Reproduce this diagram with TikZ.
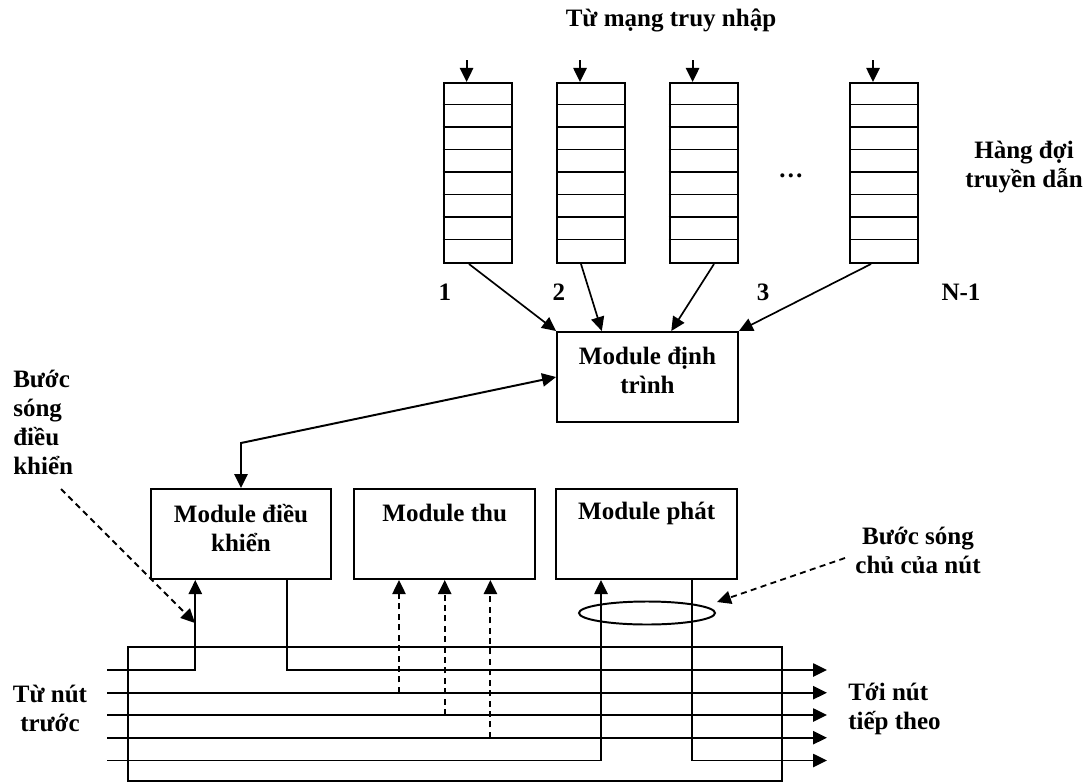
\documentclass[tikz,border=0pt]{standalone}
\usepackage{fontspec}
\setmainfont{Liberation Serif}
\usepackage{tikz}
\usetikzlibrary{arrows.meta}
\usetikzlibrary{positioning}
\usetikzlibrary{shapes.geometric}
\usetikzlibrary{calc}

\begin{document}
\begin{tikzpicture}[
  x=0.025cm, y=-0.025cm,
  % khối module và hàng đợi
  modbox/.style={rectangle, draw=black, line width=1.4pt, minimum width=4.52cm, minimum height=2.25cm, inner sep=0pt},
  queue/.style={rectangle, draw=black, line width=1.4pt, minimum width=1.7cm, minimum height=4.5cm, inner sep=0pt},
  % chữ đậm
  lbl/.style={font=\fontsize{17.8}{20.6}\selectfont\bfseries, align=center, inner sep=0pt},
  % mũi tên và đường
  arr/.style={-{Triangle[length=3.5mm, width=3.3mm]}},
  bus/.style={line width=1.4pt},
  wl/.style={line width=1.3pt, dash pattern=on 1.5mm off 1.1mm}
]
\useasboundingbox (0,0) rectangle (1084,783);

\node[lbl] (title) at (671,20) {Từ mạng truy nhập};

% các hàng đợi
\foreach \q/\cx in {1/477.6, 2/591, 3/703.6, 4/884} {
  \node[queue] (q\q) at (\cx,173) {};
  \foreach \r in {1,...,7}
    \draw[line width=1.4pt] ($(q\q.north west)+(0,22.5*\r)$) -- ($(q\q.north east)+(0,22.5*\r)$);
  \coordinate (qin\q) at (\cx-11,60);
  \draw[line width=1.4pt, arr] (qin\q) -- (qin\q |- q\q.north);
}

\node[lbl] (n1) at (445,292) {1};
\node[lbl] (n2) at (559,292) {2};
\node[lbl] (n3) at (763,292) {3};
\node[lbl] (n4) at (961,292) {N-1};
\node[lbl] (dots) at (791,176) {…};
\node[lbl] (qtxt) at (1024,167) {Hàng đợi\\truyền dẫn};

% module định trình
\node[modbox] (sched) at (647.5,377) {};
\node[lbl] (schedtxt) at (647.5,370.5) {Module định\\trình};

\draw[line width=1.2pt, arr] ([xshift=-0.215cm]q1.south) -- (sched.north west);
\draw[line width=1.2pt, arr] ([xshift=-0.25cm]q2.south) -- ($(sched.north west)!0.25!(sched.north east)$);
\draw[line width=1.2pt, arr] ([xshift=0.26cm]q3.south) -- ($(sched.north west)!0.63!(sched.north east)$);
\draw[line width=1.2pt, arr] ([xshift=-0.325cm]q4.south) -- (sched.north east);

% ba module phía dưới
\node[modbox] (ctrl) at (241,534) {};
\node[lbl] (ctrltxt) at (241,528) {Module điều\\khiển};
\node[modbox] (recv) at (444.7,534) {};
\node[lbl] (recvtxt) at (444.7,513) {Module thu};
\node[modbox] (send) at (646.7,534) {};
\node[lbl] (sendtxt) at (646.7,513) {Module phát};

\coordinate (bend) at (241,443);
\draw[line width=1.4pt, {Triangle[length=3.5mm, width=3.3mm]}-{Triangle[length=3.5mm, width=3.3mm]}] (sched.west) -- (bend) -- (ctrl.north);

\node[lbl, align=left, anchor=west] (cwltxt) at (13,422.5) {Bước\\sóng\\điều\\khiển};

% sợi quang và các bước sóng
\draw[line width=1.1pt] (128,647) rectangle (782,781);
\foreach \i/\yy in {1/670, 2/692.7, 3/715, 4/737.7, 5/760.5} {
  \coordinate (in\i) at (107,\yy);
  \coordinate (out\i) at (827,\yy);
}
\coordinate (c1) at ($(ctrl.south west)!0.25!(ctrl.south east)$);
\coordinate (c2) at ($(ctrl.south west)!0.75!(ctrl.south east)$);
\coordinate (r1) at ($(recv.south west)!0.25!(recv.south east)$);
\coordinate (r2) at (recv.south);
\coordinate (r3) at ($(recv.south west)!0.75!(recv.south east)$);
\coordinate (s1) at ($(send.south west)!0.25!(send.south east)$);
\coordinate (s2) at ($(send.south west)!0.75!(send.south east)$);

\draw[bus, arr] (in1) -| (c1);
\draw[bus, arr] (c2) |- (out1);
\draw[bus, arr] (in2) -- (out2);
\draw[bus, arr] (in3) -- (out3);
\draw[bus, arr] (in4) -- (out4);
\draw[bus, arr] (in5) -| (s1);
\draw[bus, arr] (s2) |- (out5);

\draw[wl, arr] (r1 |- in2) -- (r1);
\draw[wl, arr] (r2 |- in3) -- (r2);
\draw[wl, arr] (r3 |- in4) -- (r3);

% bước sóng chủ
\node[ellipse, draw, line width=1.4pt, minimum width=3.4cm, minimum height=0.575cm, inner sep=0pt] (mwl) at (647,613) {};
\coordinate (mwlstart) at (845,558);
\coordinate (mwltip) at (717,602);
\draw[wl, arr] (mwlstart) -- (mwltip);
\node[lbl] (mwltxt) at (918,550.5) {Bước sóng\\chủ của nút};

\coordinate (cwlstart) at (61,489);
\coordinate (cwltip) at (195,623);
\draw[wl, arr] (cwlstart) -- (cwltip);

\node[lbl] (fromtxt) at (50,708.5) {Từ nút\\trước};
\node[lbl, align=left, anchor=west] (totxt) at (848,708.5) {Tới nút\\tiếp theo};

\end{tikzpicture}
\end{document}
